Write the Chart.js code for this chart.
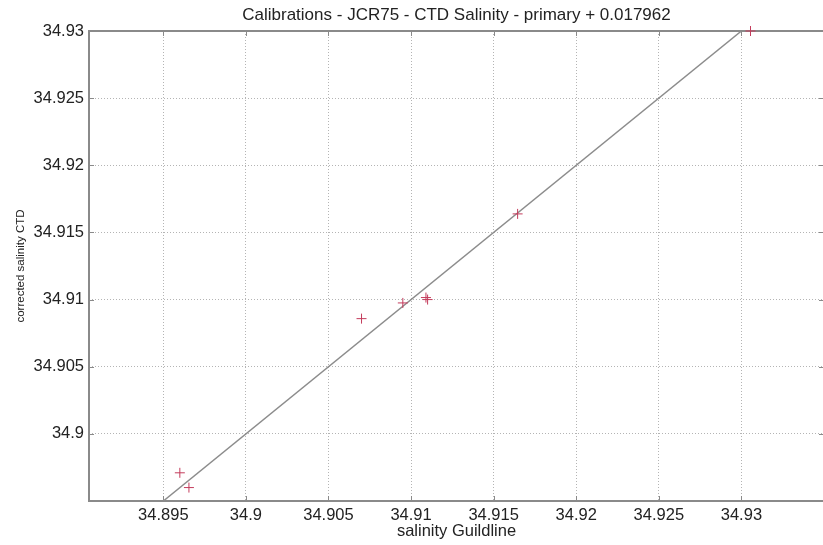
<!DOCTYPE html>
<html>
<head>
<meta charset="utf-8">
<title>Calibrations - JCR75 - CTD Salinity</title>
<script src="https://cdn.jsdelivr.net/npm/chart.js@4.4.1/dist/chart.umd.min.js"></script>
<style>
  html, body { margin: 0; padding: 0; background: #fff; overflow: hidden; }
  #wrap { width: 830px; height: 545px; }
</style>
</head>
<body>
<div id="wrap"><canvas id="calChart" width="830" height="545"></canvas></div>
<script>
// amostras: salinidade Guildline x salinidade CTD corrigida
const salGuildline = [34.8960, 34.89655, 34.9070, 34.9095, 34.9109, 34.9110, 34.91645, 34.93055];
const salCTD       = [34.8971, 34.8960, 34.90858, 34.90975, 34.91015, 34.9100, 34.91638, 34.9300];

// linha 1:1
const fitX = [34.895, 34.93];
const fitY = [34.895, 34.93];

const xTicks = [34.895, 34.9, 34.905, 34.91, 34.915, 34.92, 34.925, 34.93];
const yTicks = [34.9, 34.905, 34.91, 34.915, 34.92, 34.925, 34.93];

const corEixo = '#8a8a8a';
const fonte = 'Liberation Sans, Arial, sans-serif';

// moldura do grafico + marcas de escala para dentro (estilo matlab)
const moldura = {
    id: 'moldura',
    beforeDatasetsDraw(chart) {
        const { ctx, chartArea: a, scales } = chart;
        ctx.save();
        ctx.strokeStyle = corEixo;
        ctx.lineWidth = 2;
        ctx.strokeRect(a.left, a.top, a.right - a.left, a.bottom - a.top);

        ctx.lineWidth = 1;
        xTicks.forEach(v => {
            const px = Math.round(scales.x.getPixelForValue(v)) + 0.5;
            ctx.beginPath();
            ctx.moveTo(px, a.bottom); ctx.lineTo(px, a.bottom - 5);
            ctx.moveTo(px, a.top); ctx.lineTo(px, a.top + 5);
            ctx.stroke();
        });
        yTicks.forEach(v => {
            const py = Math.round(scales.y.getPixelForValue(v)) + 0.5;
            ctx.beginPath();
            ctx.moveTo(a.left, py); ctx.lineTo(a.left + 5, py);
            ctx.moveTo(a.right, py); ctx.lineTo(a.right - 5, py);
            ctx.stroke();
        });
        ctx.restore();
    }
};

function inicializarGrafico() {
    const ctx = document.getElementById('calChart').getContext('2d');
    new Chart(ctx, {
        type: 'scatter',
        data: {
            datasets: [{
                label: 'amostras',
                data: salGuildline.map((x, i) => ({ x: x, y: salCTD[i] })),
                pointStyle: 'cross',
                pointRadius: 5,
                pointBorderWidth: 1,
                borderColor: 'rgb(196, 60, 92)',
                backgroundColor: 'rgb(196, 60, 92)',
                showLine: false,
                clip: false
            }, {
                label: '1:1',
                data: fitX.map((x, i) => ({ x: x, y: fitY[i] })),
                showLine: true,
                pointRadius: 0,
                borderColor: '#8c8c8c',
                borderWidth: 1.5
            }]
        },
        options: {
            responsive: false,
            animation: false,
            layout: { padding: { left: 0, right: 2, top: 0, bottom: 0 } },
            plugins: {
                legend: { display: false },
                tooltip: { enabled: false },
                title: {
                    display: true,
                    fullSize: false,
                    text: 'Calibrations - JCR75 - CTD Salinity - primary + 0.017962',
                    color: '#222',
                    font: { family: fonte, size: 17, weight: 'normal' },
                    padding: { top: 5, bottom: 5.6 }
                }
            },
            scales: {
                x: {
                    type: 'linear',
                    min: 34.8905,
                    max: 34.935,
                    afterBuildTicks: s => { s.ticks = xTicks.map(v => ({ value: v })); },
                    afterFit: s => { s.height = 44; },
                    grid: { color: '#b4b4b4', drawTicks: false },
                    border: { display: false, dash: [1, 2] },
                    ticks: {
                        color: '#222',
                        padding: 5,
                        maxRotation: 0,
                        font: { family: fonte, size: 16.5 },
                        callback: v => String(v)
                    },
                    title: {
                        display: true,
                        text: 'salinity Guildline',
                        color: '#222',
                        font: { family: fonte, size: 16.5 },
                        padding: { top: 0, bottom: 4 }
                    }
                },
                y: {
                    type: 'linear',
                    min: 34.895,
                    max: 34.93,
                    afterBuildTicks: s => { s.ticks = yTicks.map(v => ({ value: v })); },
                    afterFit: s => { s.width = 89; },
                    grid: { color: '#b4b4b4', drawTicks: false },
                    border: { display: false, dash: [1, 2] },
                    ticks: {
                        color: '#222',
                        padding: 5,
                        font: { family: fonte, size: 16.5 },
                        callback: v => String(v)
                    },
                    title: {
                        display: true,
                        text: 'corrected salinity CTD',
                        color: '#222',
                        font: { family: fonte, size: 11.5 },
                        padding: { top: 14, bottom: 0 }
                    }
                }
            }
        },
        plugins: [moldura]
    });
}

document.addEventListener('DOMContentLoaded', function() {
    inicializarGrafico();
});
</script>
</body>
</html>
